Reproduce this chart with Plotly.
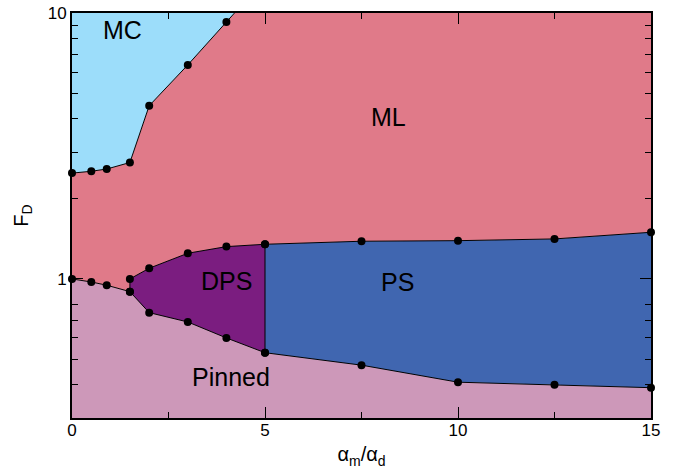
import math
import plotly.graph_objects as go

# Axis limits of the phase diagram
X_MIN, X_MAX = 0.0, 15.0
Y_MIN, Y_MAX = 0.3, 10.0

# MC / ML boundary (last point lies above the plotted range)
x_mc = [0, 0.5, 0.9, 1.5, 2, 3, 4, 5]
f_mc = [2.50, 2.54, 2.59, 2.74, 4.48, 6.38, 9.25, 13.4]

# ML / Pinned boundary at small alpha ratio
x_low = [0, 0.5, 0.9, 1.5]
f_low = [1.0, 0.974, 0.947, 0.896]

# DPS region: upper and lower boundaries
x_dps = [1.5, 2, 3, 4, 5]
dps_top = [1.0, 1.097, 1.249, 1.323, 1.35]
dps_bot = [0.896, 0.747, 0.689, 0.600, 0.528]

# PS region: upper and lower boundaries
x_ps = [5, 7.5, 10, 12.5, 15]
ps_top = [1.35, 1.386, 1.393, 1.414, 1.498]
ps_bot = [0.528, 0.474, 0.409, 0.400, 0.390]

# Phase labels
labels = ["MC", "ML", "DPS", "PS", "Pinned"]
label_x = [1.31, 8.2, 3.99, 8.43, 4.11]
label_y = [8.65, 4.08, 0.98, 0.972, 0.428]

C_MC = "#9CDDFA"
C_ML = "#E07A89"
C_PIN = "#CD98B9"
C_DPS = "#7B1D80"
C_PS = "#4066B0"

fig = go.Figure()


def region(xs, ys, color):
    fig.add_trace(go.Scatter(
        x=xs, y=ys, mode="lines", fill="toself", fillcolor=color,
        line=dict(width=0, color=color), hoverinfo="skip", showlegend=False,
    ))


# ML fills everything between the MC curve and the DPS/PS/Pinned boundary
ml_x = x_mc + [X_MAX, X_MAX] + x_ps[::-1] + x_dps[::-1][1:] + x_low[::-1]
ml_y = f_mc + [f_mc[-1], ps_top[-1]] + ps_top[::-1] + dps_top[::-1][1:] + f_low[::-1]
region(ml_x, ml_y, C_ML)

# MC in the upper-left corner
region(x_mc + [X_MIN], f_mc + [f_mc[-1]], C_MC)

# Pinned along the bottom
pin_x = x_low + x_dps[1:] + x_ps[1:] + [X_MAX, X_MIN]
pin_y = f_low + dps_bot[1:] + ps_bot[1:] + [Y_MIN, Y_MIN]
region(pin_x, pin_y, C_PIN)

# DPS and PS
region(x_dps + x_dps[::-1], dps_top + dps_bot[::-1], C_DPS)
region(x_ps + x_ps[::-1], ps_top + ps_bot[::-1], C_PS)

# Phase boundaries
line_style = dict(color="black", width=1)
boundaries = [
    (x_mc, f_mc),
    (x_low + x_dps + x_ps[1:], f_low + dps_top + ps_top[1:]),
    (x_dps + x_ps[1:], dps_bot + ps_bot[1:]),
    ([x_ps[0], x_ps[0]], [ps_bot[0], ps_top[0]]),
]
for bx, by in boundaries:
    fig.add_trace(go.Scatter(x=bx, y=by, mode="lines", line=line_style,
                             hoverinfo="skip", showlegend=False))

# Measured points (only those inside the plotted range)
pts_x, pts_y = [], []
for xs, ys in [(x_mc, f_mc), (x_low, f_low), (x_dps, dps_top), (x_dps, dps_bot),
               (x_ps, ps_top), (x_ps, ps_bot)]:
    for a, b in zip(xs, ys):
        if Y_MIN <= b <= Y_MAX:
            pts_x.append(a)
            pts_y.append(b)
fig.add_trace(go.Scatter(x=pts_x, y=pts_y, mode="markers",
                         marker=dict(color="black", size=8),
                         cliponaxis=False, showlegend=False))

# Annotations on a log axis take log10 positions
for t, lx, ly in zip(labels, label_x, label_y):
    fig.add_annotation(x=lx, y=math.log10(ly), text=t, showarrow=False,
                       font=dict(size=25, color="black", family="Liberation Sans"))

axis_common = dict(
    showline=True, linecolor="black", linewidth=2, mirror="ticks",
    ticks="inside", ticklen=11, tickwidth=1, tickcolor="black",
    showgrid=False, zeroline=False, automargin=False,
    tickfont=dict(size=17, color="black", family="Liberation Sans"),
)

fig.update_xaxes(
    range=[X_MIN, X_MAX], tickvals=[0, 5, 10, 15], ticklabelstandoff=-4,
    minor=dict(tickvals=[2.5, 7.5, 12.5], ticklen=6, tickcolor="black",
               tickwidth=1, ticks="inside", showgrid=False),
    title=dict(text="α<sub>m</sub>/α<sub>d</sub>", standoff=8,
               font=dict(size=20, color="black", family="Liberation Sans")),
    **axis_common,
)
fig.update_yaxes(
    type="log", range=[math.log10(Y_MIN), math.log10(Y_MAX)],
    tickvals=[1, 10], ticktext=["1", "10"],
    minor=dict(tickvals=[0.4, 0.5, 0.6, 0.7, 0.8, 2, 3, 4, 5, 6, 7, 8, 9],
               ticklen=6, tickcolor="black", tickwidth=1, ticks="inside",
               showgrid=False),
    title=dict(text="F<sub>D</sub>", standoff=14,
               font=dict(size=20, color="black", family="Liberation Sans")),
    **axis_common,
)

fig.update_layout(
    width=683, height=470,
    margin=dict(l=72, r=32, t=13, b=52),
    paper_bgcolor="white", plot_bgcolor="white",
    showlegend=False,
)

fig.write_html("out.html")
